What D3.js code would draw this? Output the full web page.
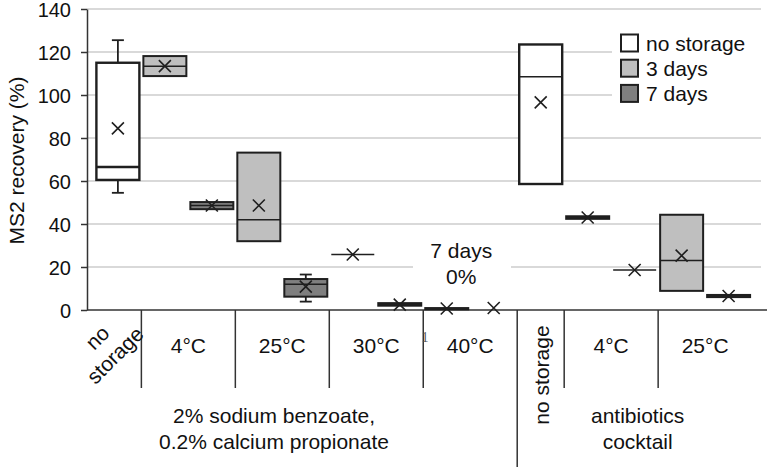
<!DOCTYPE html>
<html>
<head>
<meta charset="utf-8">
<script src="https://cdn.jsdelivr.net/npm/d3@7/dist/d3.min.js"></script>
<style>
  html, body { margin: 0; padding: 0; background: #fff; }
  svg { display: block; font-family: "Liberation Sans", Arial, sans-serif; }
</style>
</head>
<body>
<svg id="chart" width="767" height="467"></svg>
<script>
// ---------- data ----------
const seriesNames = ["no storage", "3 days", "7 days"];
const groupLabels = [["2% sodium benzoate,", "0.2% calcium propionate"], ["antibiotics", "cocktail"]];
const conditionLabels = ["no storage", "4°C", "25°C", "30°C", "40°C", "no storage", "4°C", "25°C"];
const conditionGroup = [0, 0, 0, 0, 0, 1, 1, 1];
// one entry per box slot
const slotCondition = [0, 1, 1, 2, 2, 3, 3, 4, 4, 5, 6, 6, 7, 7];
const slotSeries    = [0, 1, 2, 1, 2, 1, 2, 1, 2, 0, 1, 2, 1, 2];
const q1Values      = [60.5, 108.8, 46.9, 32.0, 6.2, 25.8, 2.0, 0.3, null, 58.6, 42.4, 18.6, 8.9, 6.0];
const medianValues  = [66.5, 113.4, 48.6, 42.0, 12.0, 25.8, 2.6, 0.6, null, 108.5, 43.0, 18.6, 23.0, 6.5];
const q3Values      = [115.0, 118.1, 50.2, 73.2, 14.4, 25.8, 3.2, 0.9, null, 123.5, 43.6, 18.6, 44.3, 7.0];
const meanValues    = [84.5, 113.4, 48.6, 48.6, 10.9, 25.8, 2.5, 0.7, 0.0, 96.6, 43.0, 18.6, 25.3, 6.5];
const whiskerLow    = [54.5, null, null, null, 3.9, null, null, null, null, null, null, null, null, null];
const whiskerHigh   = [125.5, null, null, null, 16.5, null, null, null, null, null, null, null, null, null];
const yTicks = [0, 20, 40, 60, 80, 100, 120, 140];
const yTitle = "MS2 recovery (%)";
const noteLines = ["7 days", "0%"];
const strayMark = "1";

// ---------- styles ----------
const fills = ["#ffffff", "#bfbfbf", "#7f7f7f"];
const ink = "#1f1f1f";
const gridColor = "#d9d9d9";

const svg = d3.select("#chart");
const L = 87, R = 761, T = 9, B = 310;

const y = d3.scaleLinear().domain([0, 140]).range([B, T]);
const slots = d3.range(slotCondition.length);
const x = d3.scaleBand().domain(slots).range([L, 759.5]).paddingInner(0.085).paddingOuter(0.2);
const cx = i => x(i) + x.bandwidth() / 2;
const bw = x.bandwidth();

// gridlines
svg.append("g").selectAll("line").data(yTicks.filter(v => v > 0)).join("line")
  .attr("x1", L).attr("x2", R).attr("y1", d => y(d)).attr("y2", d => y(d))
  .attr("stroke", gridColor).attr("stroke-width", 2);

// y axis
const yAxis = svg.append("g").attr("transform", `translate(${L},0)`)
  .call(d3.axisLeft(y).tickValues(yTicks).tickSize(6).tickSizeOuter(0).tickPadding(10));
yAxis.select(".domain").attr("stroke", "#333").attr("stroke-width", 1.5);
yAxis.selectAll(".tick line").attr("stroke", "#333").attr("stroke-width", 1.5);
yAxis.selectAll(".tick text").attr("font-size", 20).attr("fill", "#111")
  .attr("font-family", "Liberation Sans, Arial, sans-serif").attr("dy", "0.36em");

svg.append("text").attr("transform", `translate(23.5,${(y(0) + y(140)) / 2 + 1}) rotate(-90)`)
  .attr("text-anchor", "middle").attr("font-size", 21).attr("fill", "#111").text(yTitle);

// x axis base line
svg.append("line").attr("x1", L).attr("x2", 767).attr("y1", B).attr("y2", B)
  .attr("stroke", "#333").attr("stroke-width", 1.5);

// separators between conditions
const seps = [];
for (let i = 1; i < slots.length; i++) {
  if (slotCondition[i] !== slotCondition[i - 1]) {
    const gChange = conditionGroup[slotCondition[i]] !== conditionGroup[slotCondition[i - 1]];
    seps.push({ x: (cx(i - 1) + cx(i)) / 2, long: gChange });
  }
}
svg.append("g").selectAll("line").data(seps).join("line")
  .attr("x1", d => d.x).attr("x2", d => d.x)
  .attr("y1", B).attr("y2", d => d.long ? 467 : 388)
  .attr("stroke", "#333").attr("stroke-width", 1.5);

// condition labels
conditionLabels.forEach((lab, c) => {
  const idx = slots.filter(i => slotCondition[i] === c);
  const mx = d3.mean(idx, cx);
  if (c === 0) {
    const t = svg.append("text").attr("transform", `translate(${mx - 12},346) rotate(-45)`)
      .attr("text-anchor", "middle").attr("font-size", 21).attr("fill", "#111");
    t.append("tspan").attr("x", 0).attr("y", -12).attr("dy", "0.35em").text("no");
    t.append("tspan").attr("x", 0).attr("y", 13).attr("dy", "0.35em").text("storage");
  } else if (lab === "no storage") {
    svg.append("text").attr("transform", `translate(${mx + 8},375) rotate(-90)`)
      .attr("text-anchor", "middle").attr("font-size", 21).attr("fill", "#111").text(lab);
  } else {
    svg.append("text").attr("x", mx).attr("y", 353).attr("text-anchor", "middle")
      .attr("font-size", 21).attr("fill", "#111").text(lab);
  }
});

// group labels
const groupX = [274, d3.mean(slots.filter(i => conditionGroup[slotCondition[i]] === 1), cx) + 3];
groupLabels.forEach((lines, g) => {
  const t = svg.append("text").attr("text-anchor", "middle").attr("font-size", 21).attr("fill", "#111");
  lines.forEach((ln, k) => t.append("tspan").attr("x", groupX[g]).attr("y", 423 + k * 26).text(ln));
});

// stray glyph in reference
svg.append("text").attr("x", 425).attr("y", 342).attr("text-anchor", "middle")
  .attr("font-family", "Liberation Serif, serif").attr("font-size", 14).attr("fill", "#555").text(strayMark);

// note background + text
svg.append("rect").attr("x", 413).attr("y", 236).attr("width", 98).attr("height", 54).attr("fill", "#fff");
const note = svg.append("text").attr("text-anchor", "middle").attr("font-size", 21).attr("fill", "#111");
noteLines.forEach((ln, k) => note.append("tspan").attr("x", d3.mean([cx(7), cx(8)]) - 9).attr("y", 257.5 + k * 26.5).text(ln));

// boxes
const gBox = svg.append("g");
slots.forEach(i => {
  const s = slotSeries[i];
  const g = gBox.append("g");
  if (whiskerLow[i] != null) {
    g.append("line").attr("x1", cx(i)).attr("x2", cx(i)).attr("y1", y(whiskerLow[i])).attr("y2", y(q1Values[i]))
      .attr("stroke", ink).attr("stroke-width", 1.8);
    g.append("line").attr("x1", cx(i) - 6).attr("x2", cx(i) + 6).attr("y1", y(whiskerLow[i])).attr("y2", y(whiskerLow[i]))
      .attr("stroke", ink).attr("stroke-width", 1.8);
  }
  if (whiskerHigh[i] != null) {
    g.append("line").attr("x1", cx(i)).attr("x2", cx(i)).attr("y1", y(whiskerHigh[i])).attr("y2", y(q3Values[i]))
      .attr("stroke", ink).attr("stroke-width", 1.8);
    g.append("line").attr("x1", cx(i) - 6).attr("x2", cx(i) + 6).attr("y1", y(whiskerHigh[i])).attr("y2", y(whiskerHigh[i]))
      .attr("stroke", ink).attr("stroke-width", 1.8);
  }
  if (q1Values[i] != null) {
    const top = y(q3Values[i]), bot = y(q1Values[i]);
    g.append("rect").attr("x", x(i)).attr("y", top).attr("width", bw).attr("height", Math.max(0, bot - top))
      .attr("fill", fills[s]).attr("stroke", ink).attr("stroke-width", s === 0 ? 2.4 : 2);
    g.append("line").attr("x1", x(i)).attr("x2", x(i) + bw).attr("y1", y(medianValues[i])).attr("y2", y(medianValues[i]))
      .attr("stroke", ink).attr("stroke-width", i === 0 ? 2.4 : 1.5);
  }
  const m = y(meanValues[i]) - (meanValues[i] === 0 ? 2 : 0), h = 6;
  g.append("path").attr("d", `M${cx(i) - h},${m - h}L${cx(i) + h},${m + h}M${cx(i) - h},${m + h}L${cx(i) + h},${m - h}`)
    .attr("stroke", ink).attr("stroke-width", 1.6).attr("fill", "none");
});

// legend
svg.append("rect").attr("x", 612).attr("y", 28).attr("width", 150).attr("height", 80).attr("fill", "#fff");
const leg = svg.append("g");
seriesNames.forEach((name, k) => {
  const cy = 43 + k * 25.2;
  leg.append("rect").attr("x", 621).attr("y", cy - 8.5).attr("width", 17).attr("height", 17)
    .attr("fill", fills[k]).attr("stroke", ink).attr("stroke-width", 2);
  leg.append("text").attr("x", 646).attr("y", cy + 7.5).attr("font-size", 21).attr("fill", "#111").text(name);
});
</script>
</body>
</html>
